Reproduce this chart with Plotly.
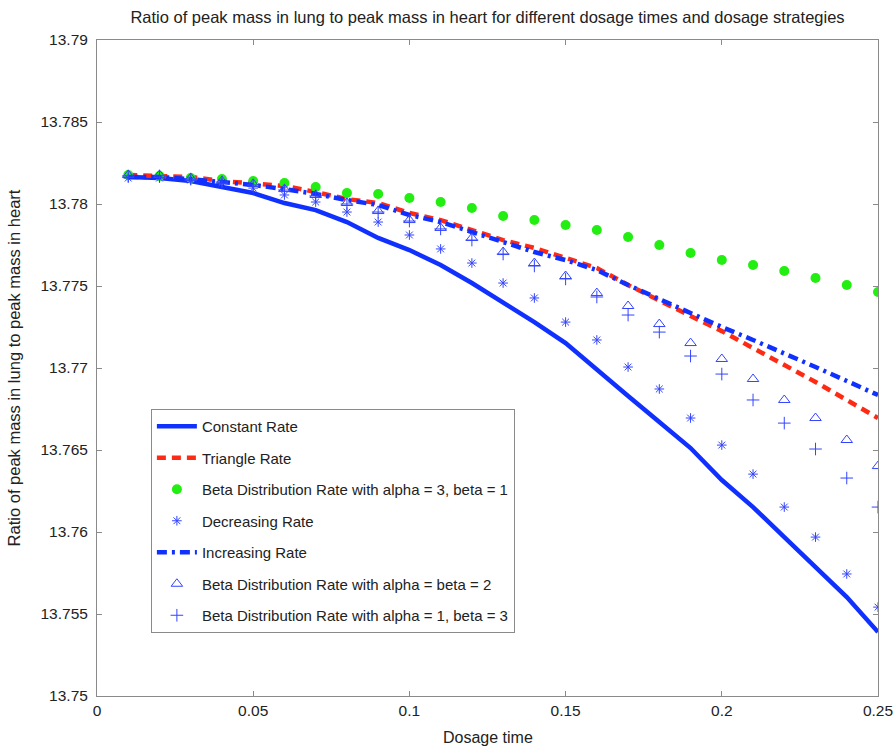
import plotly.graph_objects as go

dosage_time = [0.01, 0.02, 0.03, 0.04, 0.05, 0.06, 0.07, 0.08, 0.09, 0.10,
               0.11, 0.12, 0.13, 0.14, 0.15, 0.16, 0.17, 0.18, 0.19, 0.20,
               0.21, 0.22, 0.23, 0.24, 0.25]

constant_rate = [13.78165, 13.78158, 13.78140, 13.78104, 13.78067, 13.78006, 13.77963,
                 13.77890, 13.77793, 13.77719, 13.77628, 13.77518, 13.77402, 13.77280,
                 13.77152, 13.76988, 13.76829, 13.76671, 13.76512, 13.76317, 13.76152,
                 13.75969, 13.75786, 13.75603, 13.75390]

triangle_rate = [13.78177, 13.78171, 13.78165, 13.78140, 13.78128, 13.78110, 13.78073,
                 13.78030, 13.78006, 13.77945, 13.77902, 13.77841, 13.77780, 13.77732,
                 13.77671, 13.77610, 13.77506, 13.77408, 13.77317, 13.77225, 13.77122,
                 13.77024, 13.76915, 13.76805, 13.76695]

beta_3_1 = [13.78177, 13.78171, 13.78159, 13.78152, 13.78140, 13.78128, 13.78104,
            13.78067, 13.78061, 13.78037, 13.78012, 13.77976, 13.77927, 13.77902,
            13.77872, 13.77841, 13.77799, 13.77750, 13.77701, 13.77659, 13.77628,
            13.77591, 13.77549, 13.77506, 13.77463]

decreasing_rate = [13.78158, 13.78158, 13.78146, 13.78128, 13.78097, 13.78055, 13.78012,
                   13.77951, 13.77890, 13.77811, 13.77726, 13.77640, 13.77518, 13.77427,
                   13.77280, 13.77171, 13.77006, 13.76872, 13.76695, 13.76530, 13.76353,
                   13.76152, 13.75969, 13.75744, 13.75542]

increasing_rate = [13.78165, 13.78165, 13.78152, 13.78134, 13.78116, 13.78091, 13.78061,
                   13.78024, 13.77994, 13.77933, 13.77890, 13.77829, 13.77768, 13.77707,
                   13.77658, 13.77597, 13.77506, 13.77421, 13.77329, 13.77250, 13.77171,
                   13.77091, 13.77006, 13.76921, 13.76835]

beta_2_2 = [13.78177, 13.78177, 13.78158, 13.78140, 13.78122, 13.78091, 13.78055,
            13.78006, 13.77957, 13.77902, 13.77854, 13.77793, 13.77707, 13.77640,
            13.77561, 13.77457, 13.77378, 13.77268, 13.77152, 13.77055, 13.76933,
            13.76805, 13.76695, 13.76561, 13.76402]

beta_1_3 = [13.78171, 13.78171, 13.78152, 13.78134, 13.78116, 13.78085, 13.78049,
            13.78000, 13.77951, 13.77896, 13.77848, 13.77780, 13.77695, 13.77622,
            13.77543, 13.77433, 13.77323, 13.77219, 13.77073, 13.76963, 13.76805,
            13.76664, 13.76506, 13.76329, 13.76152]

x_tickvals = [0, 0.05, 0.1, 0.15, 0.2, 0.25]
x_ticktext = ["0", "0.05", "0.1", "0.15", "0.2", "0.25"]
y_tickvals = [13.75, 13.755, 13.76, 13.765, 13.77, 13.775, 13.78, 13.785, 13.79]
y_ticktext = ["13.75", "13.755", "13.76", "13.765", "13.77", "13.775", "13.78", "13.785", "13.79"]

BLUE = "#1030ff"
MBLUE = "#3344ff"
RED = "#ff2a14"
GREEN = "#22ee11"

fig = go.Figure()

fig.add_trace(go.Scatter(x=dosage_time, y=constant_rate, mode="lines",
                         name="Constant Rate", legendgroup="a",
                         line=dict(color=BLUE, width=4.5)))
fig.add_trace(go.Scatter(x=dosage_time, y=triangle_rate, mode="lines",
                         name="Triangle Rate", legendgroup="b",
                         line=dict(color=RED, width=4.5, dash="9px,6px")))
fig.add_trace(go.Scatter(x=dosage_time, y=beta_3_1, mode="markers",
                         name="Beta Distribution Rate with alpha = 3, beta = 1", legendgroup="c",
                         marker=dict(color=GREEN, size=10, symbol="circle")))
fig.add_trace(go.Scatter(x=dosage_time, y=decreasing_rate, mode="markers",
                         name="Decreasing Rate", legendgroup="d",
                         marker=dict(color=MBLUE, size=8, symbol="asterisk-open",
                                     line=dict(color=MBLUE, width=1))))
fig.add_trace(go.Scatter(x=dosage_time, y=increasing_rate, mode="lines",
                         name="Increasing Rate", legendgroup="e",
                         line=dict(color=BLUE, width=4.5, dash="10px,5px,3px,5px")))
fig.add_trace(go.Scatter(x=dosage_time, y=beta_2_2, mode="markers",
                         name="Beta Distribution Rate with alpha = beta = 2", legendgroup="f",
                         marker=dict(color=MBLUE, size=10, symbol="triangle-up-open",
                                     line=dict(color=MBLUE, width=1))))
fig.add_trace(go.Scatter(x=dosage_time, y=beta_1_3, mode="markers",
                         name="Beta Distribution Rate with alpha = 1, beta = 3", legendgroup="g",
                         marker=dict(color=MBLUE, size=9, symbol="cross-thin-open",
                                     line=dict(color=MBLUE, width=1))))

axis_common = dict(showline=True, linecolor="#8a8a8a", linewidth=1, mirror="ticks",
                   ticks="inside", ticklen=5, tickcolor="#8a8a8a", showgrid=False,
                   zeroline=False, tickfont=dict(size=15.5, color="#222222"))

fig.update_layout(
    width=896, height=747,
    margin=dict(l=97, r=18, t=40, b=51),
    paper_bgcolor="white", plot_bgcolor="white",
    font=dict(family="Liberation Sans, Arial, sans-serif", color="#222222"),
    title=dict(text="Ratio of peak mass in lung to peak mass in heart for different dosage times and dosage strategies",
               xref="paper", x=0.5, xanchor="center", y=0.977, yanchor="middle",
               font=dict(size=16.5, color="#222222")),
    xaxis=dict(range=[0, 0.25], tickvals=x_tickvals, ticktext=x_ticktext,
               automargin=False, **axis_common),
    yaxis=dict(range=[13.75, 13.79], tickvals=y_tickvals, ticktext=y_ticktext,
               ticklabelstandoff=5, automargin=False,
               title=dict(text="Ratio of peak mass in lung to peak mass in heart", font=dict(size=16.5)),
               **axis_common),
    annotations=[dict(text="Dosage time", xref="paper", yref="paper", x=0.5, y=-0.064,
                      xanchor="center", yanchor="middle", showarrow=False,
                      font=dict(size=16, color="#222222"))],
    showlegend=True,
    legend=dict(x=0.069, y=0.4375, xanchor="left", yanchor="top",
                bgcolor="white", bordercolor="#8a8a8a", borderwidth=1,
                font=dict(size=15, color="#222222"),
                traceorder="grouped", tracegroupgap=9, itemwidth=40),
)

fig.write_html("out.html")
